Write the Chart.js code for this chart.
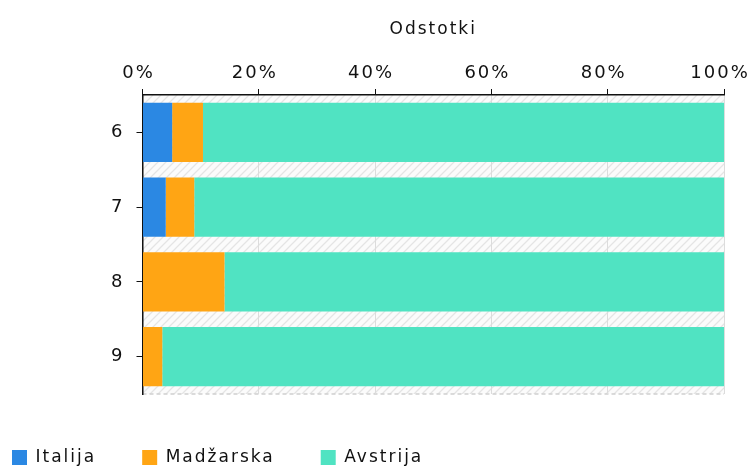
<!DOCTYPE html>
<html>
<head>
<meta charset="utf-8">
<script src="https://cdn.jsdelivr.net/npm/chart.js@4/dist/chart.umd.min.js"></script>
<style>
html,body{margin:0;padding:0;background:#fff;}
#wrap{width:754px;height:470px;}
</style>
</head>
<body>
<div id="wrap"><canvas id="c" width="754" height="470"></canvas></div>
<script>
const categories = ['6', '7', '8', '9'];
const italija = [5.1, 4.0, 0, 0];
const madzarska = [5.3, 4.9, 14.1, 3.4];
const avstrija = [89.6, 91.1, 85.9, 96.6];
const xTicks = ['0%', '20%', '40%', '60%', '80%', '100%'];
const axisTitle = 'Odstotki';

const FONT = "'DejaVu Sans', Verdana, sans-serif";
const LS = '2px';
const LEG_PAD = 46;

function setLS(chart){ chart.ctx.letterSpacing = LS; }

const hatchPlugin = {
  id: 'hatch',
  beforeUpdate: setLS,
  beforeLayout: setLS,
  beforeDraw(chart){
    setLS(chart);
    const {ctx, chartArea:a} = chart;
    const p = document.createElement('canvas');
    p.width = 8; p.height = 8;
    const pc = p.getContext('2d');
    pc.fillStyle = '#fbfbfb';
    pc.fillRect(0,0,8,8);
    pc.strokeStyle = '#e4e4e4';
    pc.lineWidth = 1.3;
    pc.beginPath();
    pc.moveTo(0,8); pc.lineTo(8,0);
    pc.moveTo(-4,4); pc.lineTo(4,-4);
    pc.moveTo(4,12); pc.lineTo(12,4);
    pc.stroke();
    ctx.save();
    ctx.fillStyle = ctx.createPattern(p,'repeat');
    ctx.fillRect(a.left, a.top, a.right-a.left, a.bottom-a.top);
    ctx.strokeStyle = '#d0d0d0';
    ctx.lineWidth = 1.5;
    ctx.setLineDash([4,3]);
    ctx.beginPath();
    ctx.moveTo(a.left, a.bottom);
    ctx.lineTo(a.right, a.bottom);
    ctx.stroke();
    ctx.restore();
  },
  beforeDatasetsDraw: setLS
};

new Chart(document.getElementById('c'), {
  type: 'bar',
  data: {
    labels: categories,
    datasets: [
      {label: 'Italija', data: italija, backgroundColor: '#2b88e3'},
      {label: 'Madžarska', data: madzarska, backgroundColor: '#ffa514'},
      {label: 'Avstrija', data: avstrija, backgroundColor: '#50e3c2'}
    ]
  },
  options: {
    indexAxis: 'y',
    responsive: false,
    animation: false,
    devicePixelRatio: 1,
    layout: {padding: {left: 12 - LEG_PAD, right: 30, top: 19, bottom: -6}},
    datasets: {bar: {barPercentage: 0.79, categoryPercentage: 1.0}},
    scales: {
      x: {
        position: 'top',
        stacked: true,
        min: 0, max: 100,
        afterFit(scale){ scale.paddingRight = 0; scale.paddingLeft = 0; },
        ticks: {
          stepSize: 20,
          color: '#111',
          padding: 5,
          labelOffset: -4,
          font: {family: FONT, size: 18},
          callback: (v, i) => xTicks[i]
        },
        grid: {color: '#dcdcdc', tickColor: '#111', tickLength: 6, lineWidth: 1},
        border: {color: '#111', width: 1.5},
        title: {display: true, text: axisTitle, color: '#111', font: {family: FONT, size: 17}, padding: {top: 0, bottom: 18}}
      },
      y: {
        stacked: true,
        afterFit(scale){ scale.width = 142.5 - (12 - LEG_PAD); },
        ticks: {color: '#111', padding: 12, font: {family: FONT, size: 18}},
        grid: {offset: false, drawOnChartArea: false, tickColor: '#111', tickLength: 6},
        border: {color: '#111', width: 1.5}
      }
    },
    plugins: {
      legend: {
        position: 'bottom',
        align: 'start',
        title: {display: true, text: ' ', font: {size: 7.5}, padding: 0},
        labels: {
          boxWidth: 15, boxHeight: 15,
          padding: LEG_PAD,
          color: '#111',
          font: {family: FONT, size: 17}
        }
      },
      tooltip: {enabled: false}
    }
  },
  plugins: [hatchPlugin]
});
</script>
</body>
</html>
